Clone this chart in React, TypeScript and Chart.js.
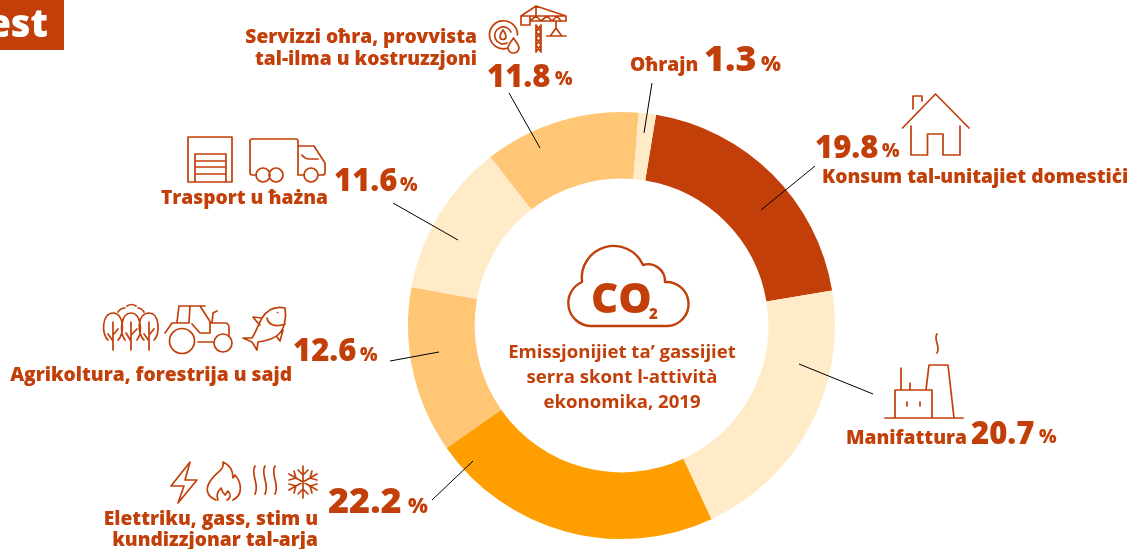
import React, { useEffect, useRef } from "react";
import { Chart, DoughnutController, ArcElement } from "chart.js";

Chart.register(DoughnutController, ArcElement);

const categories = [
  "Konsum tal-unitajiet domestiċi",
  "Manifattura",
  "Elettriku, gass, stim u kundizzjonar tal-arja",
  "Agrikoltura, forestrija u sajd",
  "Trasport u ħażna",
  "Servizzi oħra, provvista tal-ilma u kostruzzjoni",
  "Oħrajn",
];
const shares = [19.8, 20.7, 22.2, 12.6, 11.6, 11.8, 1.3];
const sliceColours = ["#C23F09", "#FFEBC8", "#FF9E00", "#FFC675", "#FFEBC8", "#FFC675", "#FFEBC8"];
const centreLines = ["Emissjonijiet ta’ gassijiet", "serra skont l-attività", "ekonomika, 2019"];

const INK = "#C23F09";
const FONT = '"Open Sans"';
const LBL = 19.2;
const NUM = 31;
const PCT = 18.5;

// [text, x, baseline, size, weight, align]
type T = [string, number, number, number, number, CanvasTextAlign];
const annotations: T[] = [
  ["Servizzi oħra, provvista", 477, 43, LBL, 800, "right"],
  ["tal-ilma u kostruzzjoni", 477, 65, LBL, 800, "right"],
  [shares[5].toFixed(1), 487, 87, NUM, 800, "left"],
  ["%", 555, 85, PCT, 800, "left"],
  ["Oħrajn", 630, 71, LBL, 800, "left"],
  [shares[6].toFixed(1), 704, 71, 36, 800, "left"],
  ["%", 761, 71, 21, 800, "left"],
  [shares[0].toFixed(1), 815, 158, NUM, 800, "left"],
  ["%", 882, 157, PCT, 800, "left"],
  ["Konsum tal-unitajiet domestiċi", 822, 183, LBL, 800, "left"],
  ["Manifattura", 846, 444, LBL, 800, "left"],
  [shares[1].toFixed(1), 971, 444, NUM, 800, "left"],
  ["%", 1039, 443, PCT, 800, "left"],
  [shares[4].toFixed(1), 334, 191, NUM, 800, "left"],
  ["%", 400, 191, PCT, 800, "left"],
  ["Trasport u ħażna", 328, 204, LBL, 800, "right"],
  [shares[3].toFixed(1), 293, 361, NUM, 800, "left"],
  ["%", 360, 361, PCT, 800, "left"],
  ["Agrikoltura, forestrija u sajd", 292, 381, LBL, 800, "right"],
  [shares[2].toFixed(1), 328, 513, 36, 800, "left"],
  ["%", 408, 513, 21, 800, "left"],
  ["Elettriku, gass, stim u", 318, 525, LBL, 800, "right"],
  ["kundizzjonar tal-arja", 318, 546, LBL, 800, "right"],
  [centreLines[0], 622, 358, 18.6, 700, "center"],
  [centreLines[1], 622, 383, 18.6, 700, "center"],
  [centreLines[2], 622, 408, 18.6, 700, "center"],
  ["CO", 591, 313, 42, 800, "left"],
  ["2", 649, 319, 15, 800, "left"],
];

const leaders = [
  "M652 83L644 133", "M509 93L540 148", "M815 166L761 210", "M799 364L873 394",
  "M393 203L458 240", "M390 361L439 352", "M432 500L473 461",
];

const cloud = "M590 326A23 23 0 0 1 582 282A32 32 0 0 1 643 265A17 17 0 0 1 665 282A22 22 0 0 1 668 326Z";

const icons = [
  // crane
  "M521 16H566V21H530M521 16V25H530V16M536 6L521 16M536 6L566 16M536 6V16M536 25V52M541 25V52M530 21L536 16L541 21L547 16L552 21L557 16L561 21M536 25L541 32L536 38L541 45L536 52M541 25L536 32L541 38L536 45L541 52M556 21V28L551 35M556 28L561 35M547 36H566",
  // gauge and drops
  "M508 48A14 14 0 1 1 517.5 35M507 43A8.5 8.5 0 1 1 511 32M503 30C501 33 500 35 500 36.5A3 3 0 0 0 506 36.5C506 35 505 33 503 30ZM513.5 38C510 43 508 45 508 48A5.5 5 0 0 0 519 48C519 45 517 43 513.5 38Z",
  // warehouse
  "M188 182V137H232V182H188M195 182V154H226V182M195 161H226M195 167H226M195 174H226",
  // truck
  "M256 175H252Q250 175 250 172V141Q250 139 252 139H296Q298 139 298 141V175H304M298 146H314L325 163V173Q325 175 322 175H318M302 155Q305 159 309 159H318",
  "M270 175A7 7 0 1 1 256 175A7 7 0 1 1 270 175ZM283 175A7 7 0 1 1 269 175A7 7 0 1 1 283 175ZM318 175A7 7 0 1 1 304 175A7 7 0 1 1 318 175Z",
  // house
  "M902.5 128L935.5 94L969 128M913 109V96H922V101M911 126V155H927.5V134H943V155H960V126",
  // factory
  "M885 418H963M895 418V390H932V418M926 390L929 365H948L954 418M901 390V368M910 390V383M907 402V406M920 402V406M937 334C933 340 941 346 937 353",
  // trees
  "M113 350V322M113 341L108 334M113 335L118 329M131 350V322M131 341L126 333M131 335L137 329M149 350V322M149 341L144 334M149 335L154 329",
  "M108 340C101 334 102 313 113 313C124 313 125 334 118 340M125 340C119 332 121 313 131 313C141 313 143 332 137 340M144 340C137 334 137 313 149 313C160 313 160 334 154 340M118 312C120 309 122 308 125 308M127 306C130 304 133 304 136 306M138 308C140 308 142 309 144 312",
  // tractor
  "M194.5 341A12.5 12.5 0 1 1 169.5 341A12.5 12.5 0 1 1 194.5 341ZM232 343A9 9 0 1 1 214 343A9 9 0 1 1 232 343ZM198 342H214M165 333L172 323H183M179 306H205M179 306L177 322M190 306L189 323H183M200 306L211 323M192 324L200 333H210V323M212 323H225Q229 323 229 328V335M212 323L213 313L217 311",
  // fish
  "M285 308C275 306 267 310 262 318C258 325 256 332 252 338L243 338L252 342L257 350L258 342C266 341 274 339 279 334C284 329 287 318 285 308ZM262 318L253 317C256 321 258 323 260 325M277 337L280 341L283 330M267 318C268 324 275 328 285 324",
  "M277.5 312.5h0.1",
  // bolt
  "M190 462L171 486H184L178 503L197 480H185L190 462Z",
  // flame
  "M223 462C225 470 216 472 211 480C205 488 206 496 216 500M223 462C230 465 233 471 233 478L235 475C242 483 243 495 233 500M218 500C216 495 218 491 221 488C222 491 224 494 225 495L228 491C231 494 231 498 227 500",
  // heat
  "M255 466C250 474 260 484 255 494M265 466C260 474 270 484 265 494M275 466C270 474 280 484 275 494",
  // snowflake
  "M303 466V498M289 474L317 490M289 490L317 474M298 470L303 475L308 470M298 494L303 489L308 494M289 480L296 478L294 471M317 484L310 486L312 493M289 484L296 486L294 493M317 480L310 478L312 471",
];

const annotationPlugin = {
  id: "annotationPlugin",
  afterDraw(chart: Chart) {
    const ctx = chart.ctx;
    ctx.save();
    ctx.fillStyle = INK;
    ctx.fillRect(0, 0, 64, 50);
    ctx.fillStyle = "#FFFFFF";
    ctx.font = `800 38px ${FONT}`;
    ctx.textAlign = "right";
    ctx.textBaseline = "alphabetic";
    ctx.fillText("est", 48, 37);

    ctx.strokeStyle = "#000000";
    ctx.lineWidth = 1;
    leaders.forEach((d) => ctx.stroke(new Path2D(d)));

    ctx.strokeStyle = INK;
    ctx.lineWidth = 1.7;
    ctx.lineJoin = "round";
    ctx.lineCap = "round";
    icons.forEach((d) => ctx.stroke(new Path2D(d)));
    ctx.lineWidth = 2.4;
    ctx.stroke(new Path2D(cloud));

    ctx.fillStyle = INK;
    annotations.forEach(([s, x, y, size, weight, align]) => {
      ctx.font = `${weight} ${size}px ${FONT}`;
      ctx.textAlign = align;
      ctx.fillText(s, x, y);
    });
    ctx.restore();
  },
};

export default function App() {
  const ref = useRef<HTMLCanvasElement>(null);
  useEffect(() => {
    document.body.style.margin = "0";
    document.body.style.background = "#FFFFFF";
    const chart = new Chart(ref.current!, {
      type: "doughnut",
      data: {
        labels: categories,
        datasets: [{ data: shares, backgroundColor: sliceColours, borderWidth: 0 }],
      },
      options: {
        responsive: false,
        animation: false,
        rotation: 9.3,
        cutout: "68.8%",
        layout: { padding: { left: 408, right: 299, top: 112, bottom: 10 } },
        plugins: { legend: { display: false }, tooltip: { enabled: false } },
      },
      plugins: [annotationPlugin],
    });
    return () => chart.destroy();
  }, []);
  return <canvas ref={ref} width={1134} height={549} style={{ display: "block" }} />;
}
